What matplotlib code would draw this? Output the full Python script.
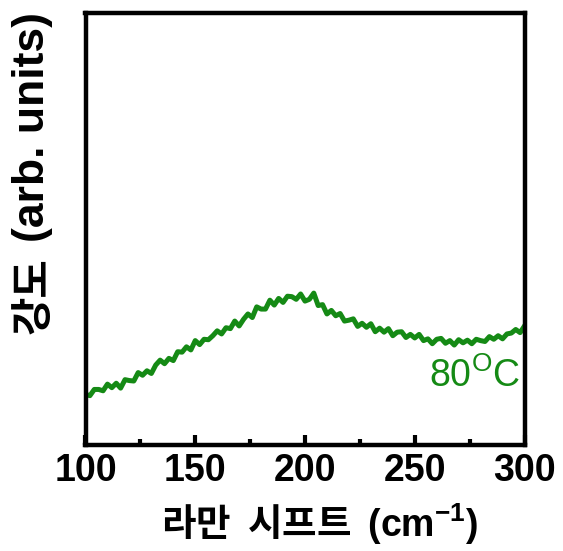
import matplotlib
matplotlib.use("Agg")
import matplotlib.pyplot as plt
from matplotlib.ticker import MultipleLocator

plt.rcParams['mathtext.fontset'] = 'custom'
plt.rcParams['mathtext.rm'] = 'Liberation Sans'
plt.rcParams['mathtext.it'] = 'Liberation Sans:italic'
plt.rcParams['mathtext.bf'] = 'Liberation Sans:bold'

# Raman shift (cm^-1)
raman_shift = [100, 102, 104, 106, 108, 110, 112, 114, 116, 118,
               120, 122, 124, 126, 128, 130, 132, 134, 136, 138,
               140, 142, 144, 146, 148, 150, 152, 154, 156, 158,
               160, 162, 164, 166, 168, 170, 172, 174, 176, 178,
               180, 182, 184, 186, 188, 190, 192, 194, 196, 198,
               200, 202, 204, 206, 208, 210, 212, 214, 216, 218,
               220, 222, 224, 226, 228, 230, 232, 234, 236, 238,
               240, 242, 244, 246, 248, 250, 252, 254, 256, 258,
               260, 262, 264, 266, 268, 270, 272, 274, 276, 278,
               280, 282, 284, 286, 288, 290, 292, 294, 296, 298, 300]

# Intensity (arb. units)
intensity = [14.0, 13.7, 15.1, 15.1, 14.8, 16.3, 15.5, 16.5, 15.4, 17.3,
             17.1, 17.0, 18.9, 18.3, 19.3, 18.7, 20.6, 21.7, 20.9, 22.1,
             21.6, 23.6, 23.5, 24.7, 24.0, 26.1, 25.2, 26.4, 26.3, 27.2,
             28.3, 27.6, 29.0, 28.8, 30.5, 29.4, 30.9, 32.1, 31.3, 33.7,
             33.2, 33.2, 35.2, 34.1, 35.6, 34.7, 36.1, 36.0, 35.4, 36.6,
             35.0, 35.4, 36.8, 34.0, 34.2, 32.1, 32.9, 31.7, 32.2, 30.5,
             30.7, 31.0, 29.3, 30.0, 29.1, 29.9, 28.1, 28.9, 28.0, 28.8,
             27.2, 28.0, 28.1, 26.8, 27.5, 26.7, 27.5, 26.1, 26.5, 25.4,
             26.4, 26.6, 25.5, 26.1, 25.1, 26.3, 25.6, 26.2, 25.4, 26.4,
             26.1, 25.9, 27.0, 26.4, 27.2, 26.5, 27.6, 27.8, 28.6, 27.9, 29.4]

x_ticks = [100, 150, 200, 250, 300]
x_ticklabels = ['100', '150', '200', '250', '300']
series_label = "80$^{\\mathrm{O}}$C"
y_label_ko = "강도"
y_label_unit = "(arb. units)"

green = '#158a15'

fig = plt.figure(figsize=(5.63, 5.51), dpi=100)
ax = fig.add_axes([85.5/563, 1-444.5/551, 439/563, 432/551])

ax.plot(raman_shift, intensity, color=green, lw=3.6)

ax.set_xlim(100, 300)
ax.set_ylim(2.7, 100)

for sp in ax.spines.values():
    sp.set_linewidth(3.2)

ax.set_xticks(x_ticks)
ax.set_xticklabels(x_ticklabels, fontfamily='Liberation Sans',
                   fontweight='bold', fontsize=27)
ax.xaxis.set_minor_locator(MultipleLocator(25))
ax.tick_params(axis='x', which='major', direction='in', length=7, width=3,
               pad=6, top=False)
ax.tick_params(axis='x', which='minor', direction='in', length=4, width=3,
               top=False)
ax.set_yticks([])

ax.set_xlabel("라만  시프트  $\\mathbf{(cm^{-1})}$",
              fontfamily=['Noto Sans CJK KR', 'DejaVu Sans'],
              fontweight='bold', fontsize=27, va='center')
ax.xaxis.set_label_coords(0.534, -0.185)

ax.set_ylabel(y_label_ko,
              fontfamily=['Noto Sans CJK KR', 'DejaVu Sans'],
              fontweight='bold', fontsize=30, va='center')
ax.yaxis.set_label_coords(-0.118, 0.345)

ax.text(-0.12, 0.735, y_label_unit, transform=ax.transAxes, rotation=90,
        ha='center', va='center', fontsize=32, fontweight='bold',
        fontfamily='Liberation Sans')

ax.text(0.99, 0.134, series_label, transform=ax.transAxes,
        ha='right', va='baseline', color=green, fontsize=27,
        fontfamily='Liberation Sans')

fig.savefig('out.png', dpi=100)
